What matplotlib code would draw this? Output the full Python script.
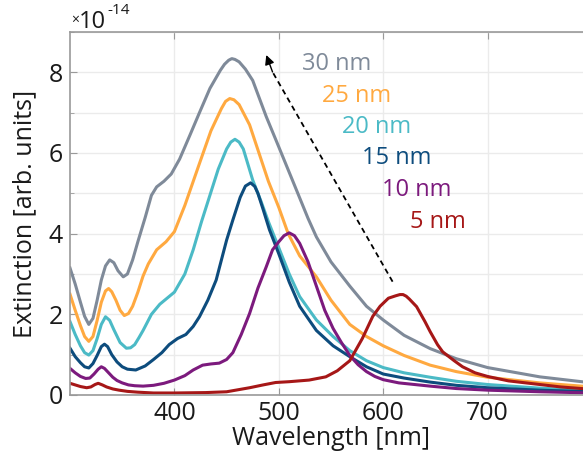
import matplotlib
matplotlib.use("Agg")
import matplotlib.pyplot as plt
from matplotlib.ticker import MultipleLocator

plt.rcParams["font.family"] = ["Open Sans", "DejaVu Sans"]

# extinction spectra, values in units of 1e-14
wl_30 = [300, 305, 310, 314, 318, 322, 326, 330, 334, 338, 342, 346, 351, 355, 360,
         365, 372, 378, 383, 390, 397, 405, 415, 424, 434, 444, 448, 452, 455, 458,
         462, 468, 475, 488, 500, 513, 528, 536, 550, 568, 584, 600, 620, 645, 670,
         700, 750, 800]
ext_30 = [3.15, 2.75, 2.3, 1.95, 1.75, 1.9, 2.35, 2.85, 3.2, 3.35, 3.28, 3.08, 2.93, 3.0, 3.35,
          3.8, 4.4, 4.95, 5.16, 5.3, 5.48, 5.85, 6.45, 7.0, 7.6, 8.05, 8.2, 8.3, 8.34, 8.32,
          8.26, 8.08, 7.8, 6.9, 6.15, 5.33, 4.38, 3.92, 3.3, 2.7, 2.2, 1.86, 1.48, 1.15, 0.9,
          0.68, 0.45, 0.3]

wl_25 = [300, 305, 310, 314, 318, 322, 326, 330, 334, 337, 340, 344, 348, 352, 356,
         360, 365, 370, 375, 383, 392, 400, 410, 424, 435, 445, 449, 453, 457, 462,
         472, 481, 490, 500, 509, 520, 536, 550, 568, 584, 600, 620, 645, 670, 700,
         750, 800]
ext_25 = [2.5, 2.1, 1.72, 1.45, 1.33, 1.45, 1.85, 2.3, 2.58, 2.64, 2.56, 2.35, 2.1, 1.97, 2.02,
          2.2, 2.55, 2.95, 3.25, 3.6, 3.8, 4.05, 4.7, 5.74, 6.55, 7.1, 7.28, 7.35, 7.32, 7.2,
          6.7, 6.0, 5.3, 4.65, 4.0, 3.45, 2.93, 2.35, 1.75, 1.45, 1.22, 0.98, 0.74, 0.58, 0.44,
          0.3, 0.2]

wl_20 = [300, 305, 310, 314, 318, 322, 326, 330, 334, 338, 342, 348, 354, 358, 362,
         366, 370, 378, 386, 393, 400, 410, 418, 426, 434, 442, 450, 454, 458, 462,
         466, 475, 483, 490, 500, 510, 520, 536, 552, 568, 584, 600, 620, 645, 670,
         700, 750, 800]
ext_20 = [1.82, 1.5, 1.22, 1.05, 0.99, 1.1, 1.4, 1.75, 1.94, 1.85, 1.62, 1.3, 1.16, 1.17, 1.25,
          1.42, 1.6, 2.0, 2.25, 2.4, 2.55, 3.0, 3.6, 4.3, 4.95, 5.6, 6.1, 6.27, 6.34, 6.27,
          6.1, 5.33, 4.8, 4.3, 3.65, 3.0, 2.44, 1.86, 1.45, 1.1, 0.85, 0.68, 0.55, 0.44, 0.34,
          0.26, 0.17, 0.11]

wl_15 = [300, 305, 310, 314, 318, 322, 326, 330, 333, 336, 340, 345, 350, 355, 363,
         372, 380, 388, 395, 403, 411, 418, 424, 432, 440, 450, 456, 463, 468, 473,
         477, 480, 485, 491, 500, 510, 520, 536, 552, 568, 584, 600, 620, 645, 670,
         700, 750, 800]
ext_15 = [1.16, 0.95, 0.8, 0.7, 0.67, 0.78, 0.98, 1.2, 1.26, 1.2, 1.0, 0.82, 0.7, 0.64, 0.62,
          0.72, 0.88, 1.05, 1.25, 1.4, 1.5, 1.7, 1.94, 2.35, 2.85, 3.84, 4.34, 4.9, 5.18, 5.26,
          5.17, 5.0, 4.6, 4.1, 3.5, 2.8, 2.2, 1.6, 1.22, 0.95, 0.7, 0.52, 0.42, 0.32, 0.24,
          0.18, 0.12, 0.08]

wl_10 = [300, 305, 310, 315, 319, 323, 327, 330, 333, 337, 341, 345, 350, 356, 362,
         370, 380, 390, 400, 410, 418, 427, 435, 443, 450, 456, 464, 472, 480, 488,
         494, 500, 505, 510, 515, 520, 528, 536, 544, 552, 560, 568, 576, 584, 592,
         600, 615, 630, 645, 670, 700, 750, 800]
ext_10 = [0.66, 0.55, 0.46, 0.41, 0.42, 0.52, 0.64, 0.7, 0.66, 0.55, 0.44, 0.36, 0.3, 0.25, 0.23,
          0.22, 0.24, 0.29, 0.37, 0.48, 0.62, 0.74, 0.77, 0.79, 0.88, 1.05, 1.5, 2.02, 2.65, 3.18,
          3.6, 3.8, 3.95, 4.02, 3.95, 3.76, 3.3, 2.7, 2.1, 1.65, 1.3, 0.98, 0.75, 0.58, 0.46,
          0.38, 0.3, 0.26, 0.22, 0.16, 0.12, 0.08, 0.05]

wl_5 = [300, 305, 310, 316, 320, 324, 327, 331, 335, 341, 347, 355, 365, 380, 400,
        430, 450, 472, 485, 497, 510, 529, 545, 556, 568, 580, 590, 597, 605, 612,
        616, 619, 622, 625, 632, 640, 645, 652, 657, 668, 676, 688, 700, 720, 740,
        770, 800]
ext_5 = [0.29, 0.25, 0.21, 0.18, 0.2, 0.26, 0.29, 0.25, 0.2, 0.15, 0.12, 0.09, 0.07, 0.05, 0.05,
         0.06, 0.08, 0.18, 0.25, 0.31, 0.33, 0.37, 0.45, 0.6, 0.85, 1.4, 1.95, 2.2, 2.4, 2.46,
         2.49, 2.49, 2.45, 2.38, 2.19, 1.82, 1.57, 1.25, 1.07, 0.85, 0.7, 0.55, 0.46, 0.35, 0.29,
         0.2, 0.14]

sizes = ["30 nm", "25 nm", "20 nm", "15 nm", "10 nm", "5 nm"]
colours = ["#7f8a99", "#ffa940", "#4bbac6", "#0d4c7d", "#7c1a7d", "#a61717"]
spectra = [(wl_30, ext_30), (wl_25, ext_25), (wl_20, ext_20),
           (wl_15, ext_15), (wl_10, ext_10), (wl_5, ext_5)]
xticks = [400, 500, 600, 700]

# arrow: from the 5 nm peak towards the 30 nm peak
arrow_tail = (609, 2.81)
arrow_head = (488, 8.43)

W, H = 583, 454
fig = plt.figure(figsize=(W / 100, H / 100), dpi=100)
ax = fig.add_axes([70 / W, 1 - 395 / H, (592 - 70) / W, (395 - 32) / H])

for (wl, ext), colour in zip(spectra, colours):
    ax.plot(wl, ext, color=colour, linewidth=2.2, solid_joinstyle="round")

# dashed arrow
ax.plot([arrow_tail[0], arrow_head[0] + 6], [arrow_tail[1], arrow_head[1] - 0.42],
        color="black", linewidth=1.3, linestyle=(0, (3, 2.2)))
ax.annotate("", xy=arrow_head, xytext=(arrow_head[0] + 6, arrow_head[1] - 0.42),
            arrowprops=dict(arrowstyle="-|>", color="black", lw=1.0,
                            mutation_scale=14, shrinkA=0, shrinkB=0))

# size labels, stepped down and right
for i, (label, colour) in enumerate(zip(sizes, colours)):
    x_px = 302 + 20 * i + (8 if i == 5 else 0)
    y_px = 64 + 31.5 * i
    fig.text(x_px / W, 1 - y_px / H, label, color=colour, fontsize=17,
             ha="left", va="center")

ax.set_xlim(300, 800)
ax.set_ylim(0, 9)
ax.set_xticks(xticks)
ax.yaxis.set_major_locator(MultipleLocator(2))
ax.yaxis.set_minor_locator(MultipleLocator(1))
ax.grid(which="both", color="#ebebeb", linewidth=1.0)
ax.set_axisbelow(True)

for side in ["left", "bottom", "top", "right"]:
    ax.spines[side].set_color("#999999")
    ax.spines[side].set_linewidth(1.2)
ax.tick_params(which="both", direction="in", top=True, right=True,
               color="#999999", labelsize=18, labelcolor="#1a1a1a")
ax.tick_params(which="major", length=5)
ax.tick_params(which="minor", length=3)
ax.tick_params(axis="x", pad=4)
ax.tick_params(axis="y", pad=5)

ax.set_xlabel("Wavelength [nm]", fontsize=18, color="#1a1a1a", labelpad=0)
ax.set_ylabel("Extinction [arb. units]", fontsize=18, color="#1a1a1a", labelpad=8)

# exponent label
fig.text(71 / W, 1 - 24 / H, "\u00d7", fontsize=10, color="#1a1a1a", va="baseline")
fig.text(79 / W, 1 - 28 / H, "10", fontsize=17, color="#1a1a1a", va="baseline")
fig.text(107 / W, 1 - 14 / H, "-14", fontsize=11, color="#1a1a1a", va="baseline")

fig.savefig("out.png", dpi=100)
